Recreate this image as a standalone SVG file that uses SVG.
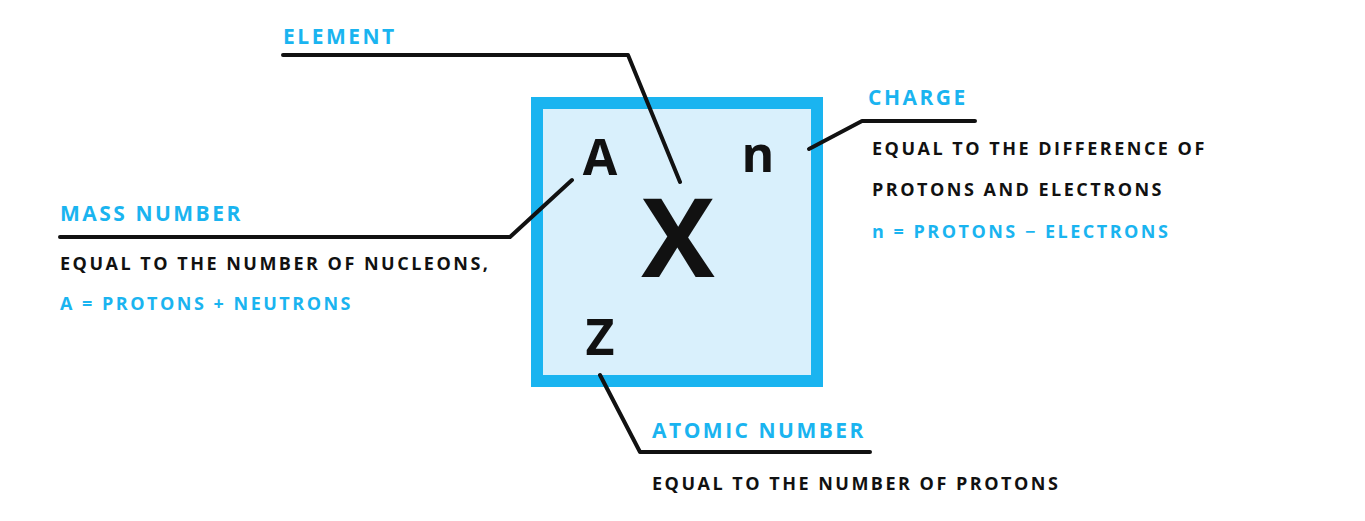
<svg xmlns="http://www.w3.org/2000/svg" width="1365" height="521" viewBox="0 0 1365 521">
<style>
.t{font-family:"Open Sans","Liberation Sans",sans-serif;font-weight:700;letter-spacing:2.5px;}
.lb{fill:#1ab4f0;font-size:21px;}
.bk{fill:#111;font-size:18px;}
.bl{fill:#1ab4f0;font-size:18px;}
.big{font-family:"Open Sans","Liberation Sans",sans-serif;font-weight:700;fill:#111;}
.ln{fill:none;stroke:#111;stroke-width:4;stroke-linecap:round;stroke-linejoin:round;}
</style>
<rect width="1365" height="521" fill="#fff"/>
<g id="box">
<rect x="537" y="103" width="280" height="278" fill="#d9f0fc" stroke="#1ab4f0" stroke-width="12"/>
<text class="big" x="600" y="175" font-size="50" text-anchor="middle">A</text>
<text class="big" x="758" y="172" font-size="50" text-anchor="middle">n</text>
<text class="big" x="678" y="277" font-size="110" text-anchor="middle">X</text>
<text class="big" x="600" y="355" font-size="50" text-anchor="middle">Z</text>
</g>
<g id="connectors">
<polyline class="ln" points="283,55 628,55 680,182"/>
<polyline class="ln" points="975,121 862,121 809,149"/>
<polyline class="ln" points="60,237 510,237 572,180"/>
<polyline class="ln" points="600,375 640,452 870,452"/>
</g>
<g id="element"><text class="t lb" x="283" y="44">ELEMENT</text></g>
<g id="charge">
<text class="t lb" x="868" y="105">CHARGE</text>
<text class="t bk" x="872" y="155">EQUAL TO THE DIFFERENCE OF</text>
<text class="t bk" x="872" y="196">PROTONS AND ELECTRONS</text>
<text class="t bl" x="872" y="238">n = PROTONS − ELECTRONS</text>
</g>
<g id="mass">
<text class="t lb" x="60" y="221">MASS NUMBER</text>
<text class="t bk" x="60" y="270">EQUAL TO THE NUMBER OF NUCLEONS,</text>
<text class="t bl" x="60" y="310">A = PROTONS + NEUTRONS</text>
</g>
<g id="atomic">
<text class="t lb" x="652" y="438">ATOMIC NUMBER</text>
<text class="t bk" x="652" y="490">EQUAL TO THE NUMBER OF PROTONS</text>
</g>
</svg>
